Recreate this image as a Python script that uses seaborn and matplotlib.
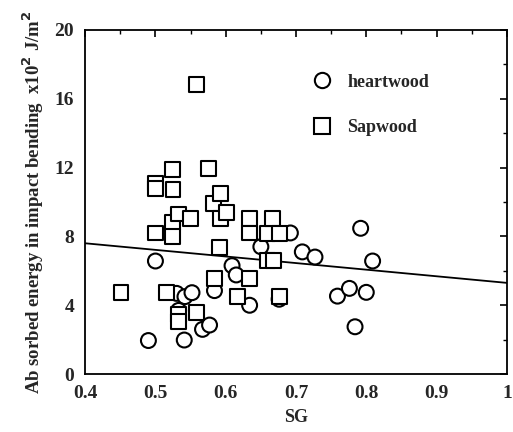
import numpy as np
import pandas as pd
import matplotlib
matplotlib.use("Agg")
import matplotlib.pyplot as plt
import seaborn as sns
from matplotlib.lines import Line2D
from matplotlib.ticker import MultipleLocator

heart_sg = [0.490, 0.541, 0.500, 0.530, 0.542, 0.552, 0.533, 0.567, 0.577, 0.584,
            0.609, 0.615, 0.634, 0.650, 0.676, 0.692, 0.709, 0.727, 0.759, 0.776,
            0.784, 0.792, 0.800, 0.809]
heart_energy = [1.95, 1.98, 6.57, 4.69, 4.50, 4.73, 3.70, 2.60, 2.85, 4.85,
                6.30, 5.76, 4.00, 7.40, 4.35, 8.20, 7.10, 6.80, 4.53, 4.98,
                2.75, 8.47, 4.75, 6.57]

sap_sg = [0.451, 0.500, 0.500, 0.500, 0.516, 0.524, 0.525, 0.524, 0.524, 0.533,
          0.533, 0.533, 0.550, 0.558, 0.559, 0.576, 0.583, 0.584, 0.592, 0.592,
          0.591, 0.601, 0.617, 0.634, 0.634, 0.634, 0.659, 0.667, 0.677, 0.659,
          0.668, 0.676]
sap_energy = [4.73, 11.1, 10.8, 8.2, 4.73, 11.9, 10.7, 8.8, 8.0, 9.3,
              3.45, 3.04, 9.05, 16.8, 3.56, 11.95, 9.9, 5.56, 10.5, 9.05,
              7.35, 9.4, 4.53, 9.05, 8.2, 5.56, 8.18, 9.05, 8.18, 6.6,
              6.6, 4.5]

fit_sg = [0.4, 1.0]
fit_energy = [7.6, 5.3]

x_ticks = [0.4, 0.5, 0.6, 0.7, 0.8, 0.9, 1.0]
x_ticklabels = ["0.4", "0.5", "0.6", "0.7", "0.8", "0.9", "1"]
y_ticks = [0, 4, 8, 12, 16, 20]

df = pd.DataFrame({
    "SG": heart_sg + sap_sg,
    "energy": heart_energy + sap_energy,
    "wood": ["heartwood"] * len(heart_sg) + ["Sapwood"] * len(sap_sg),
})

sns.set_style("white")
plt.rcParams["font.family"] = ["Liberation Serif", "DejaVu Serif"]
plt.rcParams["font.weight"] = "bold"

fig = plt.figure(figsize=(5.13, 4.32), dpi=100)
ax = fig.add_axes([0.166, 0.134, 0.822, 0.797])

sns.lineplot(x=fit_sg, y=fit_energy, ax=ax, color="black", linewidth=1.3)
sns.scatterplot(data=df, x="SG", y="energy", style="wood",
                markers={"heartwood": "o", "Sapwood": "s"},
                color="white", edgecolor="black", linewidth=1.5, s=115,
                ax=ax, legend=False, zorder=3)

ax.set_xlim(0.4, 1.0)
ax.set_ylim(0, 20)
ax.set_xticks(x_ticks)
ax.set_xticklabels(x_ticklabels)
ax.set_yticks(y_ticks)
ax.xaxis.set_minor_locator(MultipleLocator(0.05))
ax.yaxis.set_minor_locator(MultipleLocator(2))
ax.tick_params(which="major", direction="in", length=5, width=1.2,
               top=True, right=True, labelsize=14, pad=8, color="black")
ax.tick_params(which="minor", direction="in", length=3, width=1.0,
               top=True, right=True, color="black")
for lab in ax.get_xticklabels() + ax.get_yticklabels():
    lab.set_fontweight("bold")
for sp in ax.spines.values():
    sp.set_color("black")
    sp.set_linewidth(1.3)

ax.set_xlabel("SG", fontsize=13, fontweight="bold", labelpad=5)
ax.set_ylabel("Ab sorbed energy in impact bending  x10$^\\mathbf{2}$ J/m$^\\mathbf{2}$",
              fontsize=13.5, fontweight="bold", labelpad=6)

handles = [
    Line2D([], [], marker="o", linestyle="none", markerfacecolor="white",
           markeredgecolor="black", markeredgewidth=1.5, markersize=11),
    Line2D([], [], marker="s", linestyle="none", markerfacecolor="white",
           markeredgecolor="black", markeredgewidth=1.5, markersize=11),
]
leg = ax.legend(handles, ["heartwood", "Sapwood"], loc="upper left",
                bbox_to_anchor=(0.48, 0.92), frameon=False,
                prop={"size": 13, "weight": "bold"}, labelspacing=1.6,
                handletextpad=0.4)

fig.savefig("out.png", dpi=100)
